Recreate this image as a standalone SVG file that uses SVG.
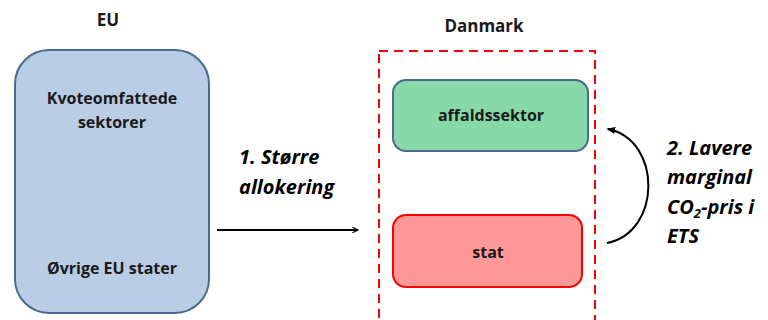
<svg xmlns="http://www.w3.org/2000/svg" width="768" height="320" viewBox="0 0 768 320">
<style>
.t{font-family:"Open Sans","Liberation Sans",sans-serif;font-weight:bold;fill:#1a1a1a}
.n{font-size:16px}
.h{font-size:17px}
.i{font-family:"Open Sans","Liberation Sans",sans-serif;font-weight:bold;font-style:italic;font-size:20px;fill:#000}
.c{stroke:#000;stroke-width:2;fill:none}
</style>
<defs>
<marker id="ah" viewBox="0 0 10 10" refX="9" refY="5" markerWidth="7" markerHeight="7" orient="auto" markerUnits="userSpaceOnUse">
<path d="M1 1 L9 5 L1 9" fill="none" stroke="#000" stroke-width="1.6"/>
</marker>
<marker id="ah2" viewBox="0 0 10 10" refX="8" refY="5" markerWidth="9" markerHeight="9" orient="auto" markerUnits="userSpaceOnUse">
<path d="M0 1 L10 5 L0 9 Z" fill="#000"/>
</marker>
</defs>
<g id="eu">
<text class="t h" x="108" y="26" text-anchor="middle">EU</text>
<rect x="15" y="50" width="194" height="263" rx="34" fill="#b9cde5" stroke="#4a6a90" stroke-width="2"/>
<text class="t n" x="112" y="104" text-anchor="middle">Kvoteomfattede</text>
<text class="t n" x="112" y="128" text-anchor="middle">sektorer</text>
<text class="t n" x="112" y="274" text-anchor="middle">Øvrige EU stater</text>
</g>
<g id="danmark">
<text class="t h" x="484" y="32" text-anchor="middle">Danmark</text>
<rect x="379" y="51" width="216" height="300" fill="none" stroke="#ff0000" stroke-width="2" stroke-dasharray="9,6"/>
</g>
<g id="affaldssektor">
<rect x="393" y="80" width="195" height="71" rx="13" fill="#88d9a9" stroke="#4a6a90" stroke-width="2"/>
<text class="t n" x="491" y="121" text-anchor="middle">affaldssektor</text>
</g>
<g id="stat">
<rect x="393" y="215" width="189" height="72" rx="13" fill="#ff9999" stroke="#ff0000" stroke-width="2"/>
<text class="t n" x="488" y="258" text-anchor="middle">stat</text>
</g>
<g id="connectors">
<line class="c" x1="217" y1="230" x2="358" y2="230" marker-end="url(#ah)"/>
<path class="c" d="M607 243 C662 232 662 140 608 129" marker-end="url(#ah2)"/>
<text class="i" x="239" y="164">1. Større</text>
<text class="i" x="239" y="194">allokering</text>
<text class="i" x="667" y="155">2. Lavere</text>
<text class="i" x="667" y="184">marginal</text>
<text class="i" x="667" y="214">CO<tspan font-size="13" dy="4">2</tspan><tspan dy="-4">-pris i</tspan></text>
<text class="i" x="667" y="243">ETS</text>
</g>
</svg>
